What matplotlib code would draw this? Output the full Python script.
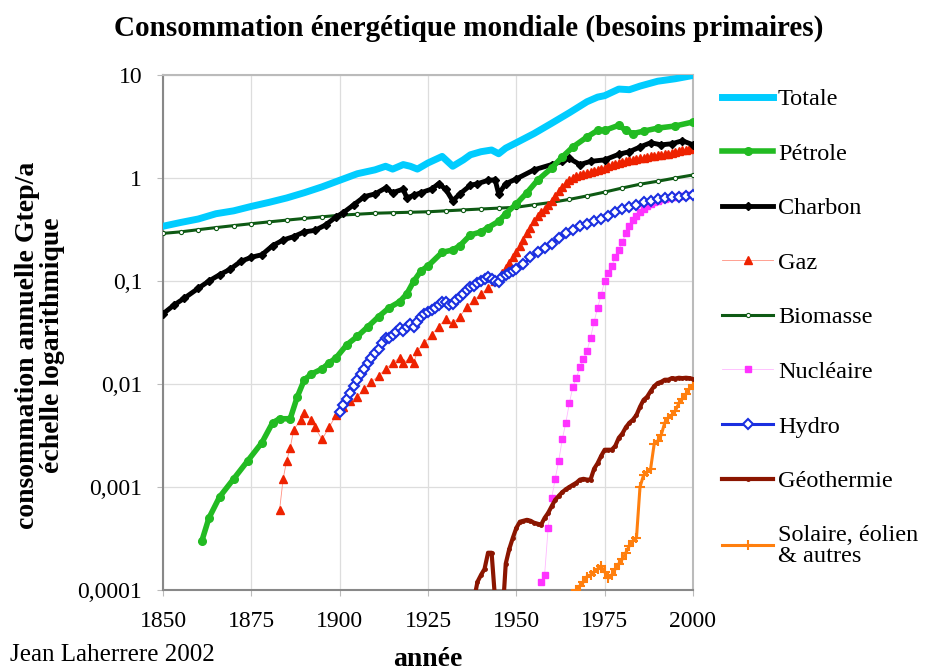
import matplotlib
matplotlib.use("Agg")
import matplotlib.pyplot as plt
from matplotlib.lines import Line2D

plt.rcParams['font.family'] = ['Liberation Serif', 'DejaVu Serif']

# ---------------- data (Gtep/a) ----------------
tot_years = [1850, 1855, 1860, 1865, 1870, 1875, 1880, 1885, 1890, 1895, 1900, 1905, 1910, 1913,
             1915, 1918, 1920, 1922, 1925, 1929, 1932, 1935, 1937, 1940, 1943, 1945, 1947, 1950,
             1955, 1960, 1965, 1970, 1973, 1975, 1979, 1982, 1985, 1990, 1995, 2000]
tot_vals = [0.34, 0.37, 0.40, 0.45, 0.48, 0.53, 0.58, 0.64, 0.72, 0.82, 0.95, 1.1, 1.2, 1.3,
            1.22, 1.35, 1.3, 1.22, 1.4, 1.62, 1.3, 1.5, 1.68, 1.8, 1.87, 1.72, 1.95, 2.2,
            2.7, 3.4, 4.3, 5.5, 6.1, 6.3, 7.3, 7.2, 7.8, 8.7, 9.2, 9.9]

pet_years = [1861, 1863, 1866, 1870, 1874, 1878, 1881, 1883, 1886, 1888, 1890, 1892, 1895, 1897,
             1899, 1902, 1905, 1908, 1911, 1914, 1917, 1919, 1921, 1923, 1925, 1929, 1932, 1934,
             1937, 1940, 1942, 1945, 1947, 1950, 1953, 1956, 1960, 1963, 1966, 1970, 1973, 1975,
             1979, 1981, 1983, 1986, 1990, 1995, 2000]
pet_vals = [0.0003, 0.0005, 0.0008, 0.0012, 0.0018, 0.0027, 0.0042, 0.0046, 0.0046, 0.0075, 0.011,
            0.0125, 0.014, 0.016, 0.018, 0.024, 0.029, 0.036, 0.045, 0.055, 0.063, 0.075, 0.10,
            0.125, 0.14, 0.19, 0.2, 0.22, 0.28, 0.3, 0.33, 0.38, 0.45, 0.56, 0.72, 0.95, 1.25,
            1.6, 2.0, 2.5, 2.9, 2.9, 3.25, 2.9, 2.7, 2.85, 3.05, 3.2, 3.5]

cha_years = [1850, 1853, 1856, 1860, 1863, 1866, 1869, 1872, 1875, 1878, 1881, 1884, 1887, 1890,
             1893, 1896, 1899, 1901, 1904, 1907, 1910, 1913, 1915, 1918, 1919, 1921, 1923, 1926,
             1928, 1930, 1932, 1934, 1937, 1939, 1942, 1944, 1945, 1947, 1950, 1955, 1960, 1963,
             1965, 1968, 1971, 1975, 1979, 1982, 1985, 1988, 1991, 1994, 1997, 2000]
cha_vals = [0.048, 0.058, 0.068, 0.085, 0.1, 0.115, 0.13, 0.155, 0.17, 0.18, 0.22, 0.25, 0.27, 0.3,
            0.31, 0.35, 0.42, 0.46, 0.55, 0.66, 0.7, 0.8, 0.72, 0.78, 0.64, 0.68, 0.72, 0.78,
            0.88, 0.78, 0.6, 0.7, 0.85, 0.88, 0.95, 0.96, 0.7, 0.88, 0.98, 1.2, 1.35, 1.45,
            1.55, 1.35, 1.45, 1.5, 1.7, 1.8, 2.0, 2.2, 2.1, 2.15, 2.3, 2.1]

gaz_years = [1883, 1884, 1885, 1886, 1887, 1889, 1890, 1892, 1893, 1895, 1897, 1899, 1901, 1903,
             1905, 1907, 1909, 1911, 1913, 1915, 1917, 1918, 1920, 1921, 1922, 1924, 1926, 1928,
             1930, 1932, 1934, 1936, 1938, 1940, 1942, 1944, 1946, 1947, 1948, 1949, 1950, 1951,
             1952, 1953, 1954, 1955, 1956, 1957, 1958, 1959, 1960, 1961, 1962, 1963, 1964, 1965,
             1966, 1967, 1968, 1969, 1970, 1971, 1972, 1973, 1974, 1975, 1976, 1977, 1978, 1979,
             1980, 1981, 1982, 1983, 1984, 1985, 1986, 1987, 1988, 1989, 1990, 1991, 1992, 1993,
             1994, 1995, 1996, 1997, 1998, 1999, 2000]
gaz_vals = [0.0006, 0.0012, 0.0018, 0.0024, 0.0036, 0.0045, 0.0052, 0.0045, 0.0038, 0.0029, 0.0038,
            0.005, 0.006, 0.0068, 0.0075, 0.009, 0.0105, 0.012, 0.014, 0.016, 0.018, 0.016, 0.018,
            0.016, 0.021, 0.025, 0.03, 0.036, 0.043, 0.039, 0.045, 0.056, 0.065, 0.075, 0.085, 0.1,
            0.12, 0.135, 0.15, 0.17, 0.19, 0.22, 0.25, 0.29, 0.33, 0.38, 0.43, 0.47, 0.5, 0.55,
            0.6, 0.67, 0.75, 0.82, 0.9, 0.95, 1.0, 1.04, 1.08, 1.1, 1.12, 1.15, 1.18, 1.2, 1.22,
            1.25, 1.3, 1.35, 1.38, 1.4, 1.42, 1.45, 1.48, 1.5, 1.52, 1.55, 1.57, 1.6, 1.62, 1.65,
            1.67, 1.68, 1.7, 1.72, 1.75, 1.78, 1.82, 1.85, 1.88, 1.92, 1.95]

bio_years = [1850, 1855, 1860, 1865, 1870, 1875, 1880, 1885, 1890, 1895, 1900, 1905, 1910, 1915,
             1920, 1925, 1930, 1935, 1940, 1945, 1950, 1955, 1960, 1965, 1970, 1975, 1980, 1985,
             1990, 1995, 2000]
bio_vals = [0.29, 0.30, 0.315, 0.33, 0.345, 0.36, 0.375, 0.39, 0.405, 0.42, 0.435, 0.445, 0.455,
            0.46, 0.465, 0.47, 0.48, 0.49, 0.50, 0.51, 0.52, 0.55, 0.58, 0.62, 0.67, 0.73, 0.8,
            0.87, 0.93, 1.0, 1.07]

nuc_years = list(range(1957, 2001))
nuc_vals = [0.00012, 0.00014, 0.0004, 0.00078, 0.0012, 0.0018, 0.0029, 0.0042, 0.0065, 0.0094,
            0.0115, 0.0145, 0.0173, 0.021, 0.028, 0.04, 0.055, 0.073, 0.1, 0.12, 0.14, 0.17, 0.2,
            0.24, 0.29, 0.34, 0.39, 0.43, 0.47, 0.5, 0.53, 0.56, 0.58, 0.6, 0.62, 0.63, 0.64,
            0.65, 0.66, 0.67, 0.67, 0.68, 0.69, 0.7]

hyd_years = list(range(1900, 1951)) + list(range(1952, 2001, 2))
hyd_vals = [0.0053, 0.0062, 0.0072, 0.0082, 0.0095, 0.011, 0.0125, 0.014, 0.016, 0.018, 0.02,
            0.022, 0.025, 0.028, 0.028, 0.03, 0.032, 0.035, 0.033, 0.036, 0.038, 0.036, 0.04,
            0.045, 0.048, 0.05, 0.052, 0.055, 0.058, 0.062, 0.062, 0.058, 0.06, 0.065, 0.07,
            0.075, 0.082, 0.088, 0.09, 0.095, 0.1, 0.105, 0.11, 0.105, 0.1, 0.098, 0.11, 0.115,
            0.12, 0.125, 0.13,
            0.145, 0.17, 0.19, 0.21, 0.23, 0.26, 0.29, 0.31, 0.34, 0.36, 0.38, 0.4, 0.43, 0.47,
            0.5, 0.52, 0.55, 0.58, 0.6, 0.62, 0.64, 0.65, 0.66, 0.67, 0.68]

geo_years = list(range(1938, 2001))
geo_vals = [0.00008, 0.00012, 0.00014, 0.00016, 0.00023, 0.00023, 0.00008, 0.00005, 0.00005,
            0.00018, 0.00025, 0.00032, 0.0004, 0.00046, 0.00047, 0.00048, 0.00047, 0.00045,
            0.00044, 0.00043, 0.0005, 0.00056, 0.00065, 0.00075, 0.00082, 0.00089, 0.00095,
            0.001, 0.00105, 0.0011, 0.00118, 0.0012, 0.00118, 0.00118, 0.0015, 0.0017, 0.002,
            0.0023, 0.0023, 0.0023, 0.0025, 0.003, 0.0033, 0.0038, 0.0042, 0.0045, 0.005, 0.006,
            0.007, 0.0075, 0.0085, 0.0095, 0.0102, 0.0105, 0.011, 0.011, 0.0114, 0.0113, 0.0115,
            0.0114, 0.0115, 0.0114, 0.0112]

sol_years = list(range(1967, 2001))
sol_vals = [0.0001, 0.00011, 0.00012, 0.000135, 0.00014, 0.00015, 0.00016, 0.00017, 0.00015,
            0.00013, 0.00014, 0.00016, 0.00018, 0.0002, 0.00023, 0.00027, 0.0003, 0.00032, 0.001,
            0.0013, 0.0014, 0.0015, 0.0026, 0.0028, 0.0032, 0.0042, 0.0047, 0.005, 0.0055, 0.0065,
            0.0072, 0.008, 0.009, 0.0098]

yticks = [0.0001, 0.001, 0.01, 0.1, 1, 10]
ytick_labels = ["0,0001", "0,001", "0,01", "0,1", "1", "10"]
xticks = [1850, 1875, 1900, 1925, 1950, 1975, 2000]

# ---------------- figure ----------------
fig = plt.figure(figsize=(9.28, 6.70), dpi=100)
ax = fig.add_axes([163/928, 80/670, 530/928, 515/670])

h = []
h += ax.plot(bio_years, bio_vals, color='#0E5A14', lw=2.2, marker='o', ms=3, mfc='white',
             mec='#0E5A14', mew=0.8, label='Biomasse', zorder=3)
h += ax.plot(nuc_years, nuc_vals, color='#FFB8FF', lw=0.6, marker='s', ms=5, mfc='#FF33FF',
             mec='#FF33FF', label='Nucléaire', zorder=3)
h += ax.plot(sol_years, sol_vals, color='#FF7F0E', lw=2.2, marker='+', ms=7, mew=1.5,
             label='Solaire, éolien\n& autres', zorder=3)
h += ax.plot(geo_years, geo_vals, color='#8B1500', lw=3, marker='o', ms=2.5,
             label='Géothermie', zorder=3)
h += ax.plot(gaz_years, gaz_vals, color='#FF9080', lw=0.6, marker='^', ms=6, mfc='#EE2200',
             mec='#EE2200', label='Gaz', zorder=4)
h += ax.plot(hyd_years, hyd_vals, color='#1A2FE0', lw=2.2, marker='D', ms=5, mfc='white',
             mec='#1A2FE0', mew=1.5, label='Hydro', zorder=5)
h += ax.plot(cha_years, cha_vals, color='black', lw=3.5, marker='D', ms=4,
             label='Charbon', zorder=5)
h += ax.plot(pet_years, pet_vals, color='#22BB22', lw=4, marker='o', ms=5.5,
             label='Pétrole', zorder=5)
h += ax.plot(tot_years, tot_vals, color='#00CCFF', lw=5, label='Totale', zorder=6,
             solid_capstyle='round')

ax.set_yscale('log')
ax.set_ylim(0.0001, 10)
ax.set_xlim(1850, 2000)
ax.set_yticks(yticks)
ax.set_yticklabels(ytick_labels)
ax.yaxis.set_minor_locator(matplotlib.ticker.NullLocator())
ax.set_xticks(xticks)
ax.tick_params(labelsize=17, length=4, color='#bbbbbb')
ax.tick_params(axis='x', pad=11)
ax.tick_params(axis='y', pad=11)
ax.grid(True, color='#dddddd', lw=0.9)
ax.set_axisbelow(True)
for s in ['top', 'right']:
    ax.spines[s].set_color('#bbbbbb')
    ax.spines[s].set_linewidth(1.5)
for s in ['left', 'bottom']:
    ax.spines[s].set_color('#888888')
    ax.spines[s].set_linewidth(1.5)

# legend
order = ['Totale', 'Pétrole', 'Charbon', 'Gaz', 'Biomasse', 'Nucléaire', 'Hydro', 'Géothermie',
         'Solaire, éolien\n& autres']
hd = {x.get_label(): x for x in h}
leg_handles = []
for name in order:
    src = hd[name]
    lh = Line2D([], [], color=src.get_color(), lw=src.get_linewidth(),
                marker=src.get_marker(), ms=src.get_markersize(),
                mfc=src.get_markerfacecolor(), mec=src.get_markeredgecolor(),
                mew=src.get_markeredgewidth())
    leg_handles.append(lh)
leg = fig.legend(leg_handles, order, loc='upper left', bbox_to_anchor=(722/928, 1 - 88/670),
                 frameon=False, fontsize=17.5, handlelength=2.1, handletextpad=0.2,
                 labelspacing=1.34, borderaxespad=0, borderpad=0, numpoints=1)
leg.get_texts()[-1].set_linespacing(1.0)

fig.text(469/928, 1 - 28/670, 'Consommation énergétique mondiale (besoins primaires)',
         ha='center', va='center', fontsize=21, fontweight='bold')
fig.text(40/928, 1 - 345/670, 'consommation annuelle Gtep/a\néchelle logarithmique',
         ha='center', va='center', rotation=90, fontsize=20, fontweight='bold', linespacing=0.95)
fig.text(428/928, 1 - 659/670, 'année', ha='center', va='center', fontsize=20, fontweight='bold')
fig.text(10/928, 1 - 655/670, 'Jean Laherrere 2002', ha='left', va='center', fontsize=18)

fig.savefig('out.png', dpi=100)
